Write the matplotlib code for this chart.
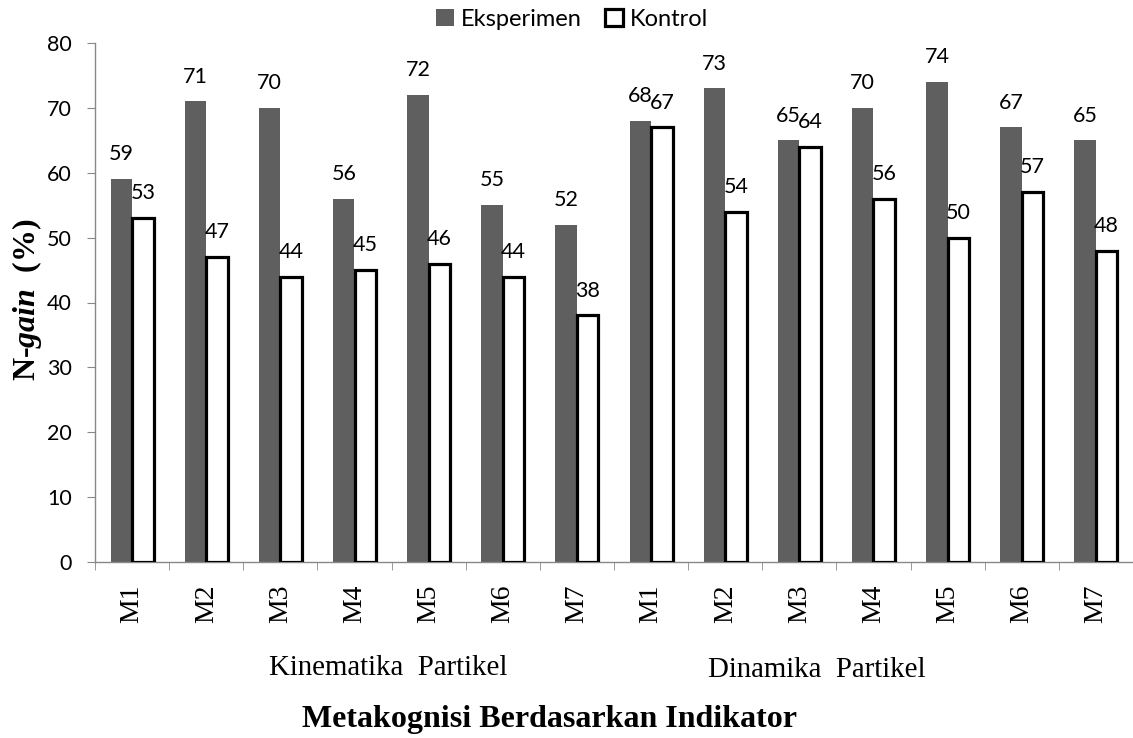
import matplotlib
matplotlib.use("Agg")
import matplotlib.pyplot as plt
import numpy as np

# Data
categories = ['M1', 'M2', 'M3', 'M4', 'M5', 'M6', 'M7',
              'M1', 'M2', 'M3', 'M4', 'M5', 'M6', 'M7']
eksperimen = [59, 71, 70, 56, 72, 55, 52, 68, 73, 65, 70, 74, 67, 65]
kontrol = [53, 47, 44, 45, 46, 44, 38, 67, 54, 64, 56, 50, 57, 48]
groups = ['Kinematika  Partikel', 'Dinamika  Partikel']

plt.rcParams['mathtext.fontset'] = 'custom'
plt.rcParams['mathtext.rm'] = 'Liberation Serif'
plt.rcParams['mathtext.bf'] = 'Liberation Serif:bold'
plt.rcParams['mathtext.bfit'] = 'Liberation Serif:bold:italic'
plt.rcParams['mathtext.it'] = 'Liberation Serif:italic'

W, H = 1133, 738
fig = plt.figure(figsize=(W / 100, H / 100), dpi=100)
ax = fig.add_axes([95 / W, 1 - 562 / H, (1133 - 95) / W, (562 - 43) / H])

x = np.arange(len(categories))
w = 0.29
gray = '#5f5f5f'
ax.bar(x - w / 2, eksperimen, w, color=gray, label='Eksperimen', zorder=2)
ax.bar(x + w / 2, kontrol, w, color='white', edgecolor='black', linewidth=2.3,
       label='Kontrol', zorder=3)

sans = 'Lato'
num_size = 15.5
for xi, v in zip(x, eksperimen):
    ax.annotate(str(v), (xi - w / 2, v), xytext=(0, 13.5), textcoords='offset points',
                ha='center', va='baseline', fontsize=num_size, family=sans)
for xi, v in zip(x, kontrol):
    ax.annotate(str(v), (xi + w / 2, v), xytext=(0, 13.5), textcoords='offset points',
                ha='center', va='baseline', fontsize=num_size, family=sans, zorder=5)

ax.set_xlim(-0.5, len(categories) - 0.5)
ax.set_ylim(0, 80)
ax.set_yticks(range(0, 81, 10))
ax.set_yticklabels([str(t) for t in range(0, 81, 10)], family=sans, fontsize=num_size)
ax.set_xticks(x)
ax.set_xticklabels(categories, rotation=90, family='Liberation Serif', fontsize=20)
ax.set_xticks(np.arange(-0.5, len(categories)), minor=True)
ax.tick_params(axis='x', which='major', length=0, pad=16)
ax.tick_params(axis='x', which='minor', length=5.5, color='#888888', direction='out')
ax.tick_params(axis='y', length=5.5, color='#888888', direction='out', pad=11)

for s in ['top', 'right']:
    ax.spines[s].set_visible(False)
for s in ['left', 'bottom']:
    ax.spines[s].set_color('#888888')
    ax.spines[s].set_linewidth(1.0)

fig.text(27 / W, 1 - 300 / H, r'N-$\mathbfit{gain}$  (%)', rotation=90, ha='center', va='center',
         family='Liberation Serif', fontweight='bold', fontsize=23)

fig.text(388 / W, 1 - 668 / H, groups[0], ha='center', va='center',
         family='Liberation Serif', fontsize=20.8)
fig.text(817 / W, 1 - 670 / H, groups[1], ha='center', va='center',
         family='Liberation Serif', fontsize=20.8)
fig.text(549 / W, 1 - 719 / H, 'Metakognisi Berdasarkan Indikator', ha='center', va='center',
         family='Liberation Serif', fontweight='bold', fontsize=23)

leg = fig.legend(loc='center', bbox_to_anchor=(572 / W, 1 - 19 / H), ncol=2, frameon=False,
                 prop={'family': sans, 'size': 17}, handlelength=0.75, handleheight=0.75,
                 handletextpad=0.3, columnspacing=1.0, borderpad=0.1)

fig.savefig('out.png', dpi=100)
